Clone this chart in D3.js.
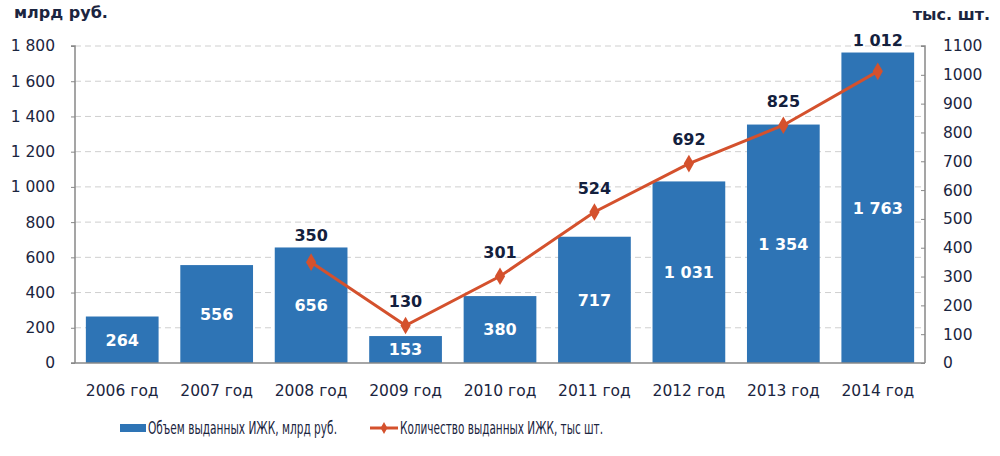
<!DOCTYPE html>
<html>
<head>
<meta charset="utf-8">
<script src="https://cdn.jsdelivr.net/npm/d3@7"></script>
<style>
html,body{margin:0;padding:0;background:#fff;}
svg{display:block;}
</style>
</head>
<body>
<svg id="chart" width="1000" height="456"></svg>
<script>
const categories = ["2006 год","2007 год","2008 год","2009 год","2010 год","2011 год","2012 год","2013 год","2014 год"];
const volumeValues = [264, 556, 656, 153, 380, 717, 1031, 1354, 1763];
const countYears = ["2008 год","2009 год","2010 год","2011 год","2012 год","2013 год","2014 год"];
const countValues = [350, 130, 301, 524, 692, 825, 1012];
const leftTicks = [0,200,400,600,800,1000,1200,1400,1600,1800];
const rightTicks = [0,100,200,300,400,500,600,700,800,900,1000,1100];
const leftTitle = "млрд руб.";
const rightTitle = "тыс. шт.";
const legendBar = "Объем выданных ИЖК, млрд руб.";
const legendLine = "Количество выданных ИЖК, тыс шт.";

const svg = d3.select("#chart");
const mLeft = 75, mRight = 925, mTop = 46, mBottom = 363;
const textColor = "#1b2540";
const barColor = "#2e74b5";
const lineColor = "#d4512d";
const font = "'DejaVu Sans', Verdana, sans-serif";

const x = d3.scaleBand().domain(categories).range([mLeft, mRight]).paddingInner(0.23).paddingOuter(0.115);
const yL = d3.scaleLinear().domain([0, 1800]).range([mBottom, mTop]);
const yR = d3.scaleLinear().domain([0, 1100]).range([mBottom, mTop]);
const fmtSpace = v => d3.format(",")(v).replace(/,/g, " ");

// gridlines
svg.append("g").selectAll("line").data(leftTicks.filter(d => d > 0)).join("line")
  .attr("x1", mLeft).attr("x2", mRight)
  .attr("y1", d => yL(d)).attr("y2", d => yL(d))
  .attr("stroke", "#cfcfcf").attr("stroke-width", 1).attr("stroke-dasharray", "6,4");

// bars
svg.append("g").selectAll("rect").data(volumeValues).join("rect")
  .attr("x", (d,i) => x(categories[i]))
  .attr("width", x.bandwidth())
  .attr("y", d => yL(d))
  .attr("height", d => yL(0) - yL(d))
  .attr("fill", barColor);

// bar labels
svg.append("g").selectAll("text").data(volumeValues).join("text")
  .attr("x", (d,i) => x(categories[i]) + x.bandwidth()/2)
  .attr("y", d => (yL(d) + yL(0))/2)
  .attr("dy", "0.36em")
  .attr("text-anchor", "middle")
  .attr("fill", "#fff").attr("font-family", font).attr("font-weight", "bold").attr("font-size", 16)
  .text(d => fmtSpace(d));

// left axis
const axL = d3.axisLeft(yL).tickValues(leftTicks).tickSize(4).tickPadding(16).tickFormat(fmtSpace);
const gL = svg.append("g").attr("transform", `translate(${mLeft},0)`).call(axL);
gL.select(".domain").attr("stroke", "#888").attr("stroke-width", 1.5).attr("d", `M-4,${mTop}H0V${mBottom}`);
gL.selectAll(".tick line").attr("stroke", "#888");
gL.selectAll("text").attr("font-family", font).attr("font-size", 15.5).attr("fill", textColor);

// right axis
const axR = d3.axisRight(yR).tickValues(rightTicks).tickSize(-4).tickPadding(18).tickFormat(d3.format("d"));
const gR = svg.append("g").attr("transform", `translate(${mRight},0)`).call(axR);
gR.select(".domain").attr("stroke", "#888").attr("stroke-width", 1.5).attr("d", `M-4,${mTop}H0V${mBottom}`);
gR.selectAll(".tick line").attr("stroke", "#888");
gR.selectAll("text").attr("font-family", font).attr("font-size", 15.5).attr("fill", textColor);

// bottom axis
const axB = d3.axisBottom(x).tickSize(0).tickPadding(22);
const gB = svg.append("g").attr("transform", `translate(0,${mBottom})`).call(axB);
gB.select(".domain").attr("stroke", "#888").attr("stroke-width", 1.5).attr("d", `M${mLeft-4},0H${mRight}`);
gB.selectAll("text").attr("font-family", font).attr("font-size", 15.5).attr("fill", textColor);

// line
const cx = c => x(c) + x.bandwidth()/2;
const pts = countValues.map((v,i) => [cx(countYears[i]), yR(v)]);
svg.append("path").datum(pts)
  .attr("d", d3.line())
  .attr("fill", "none").attr("stroke", lineColor).attr("stroke-width", 3);
svg.append("g").selectAll("path").data(pts).join("path")
  .attr("d", d3.symbol(d3.symbolDiamond, 90))
  .attr("transform", d => `translate(${d[0]},${d[1]})`)
  .attr("fill", lineColor);

// line labels
svg.append("g").selectAll("text").data(countValues).join("text")
  .attr("x", (d,i) => cx(countYears[i]))
  .attr("y", (d,i) => {
    const barTop = yL(volumeValues[categories.indexOf(countYears[i])]);
    const py = yR(d) - 24;
    return (yR(d) > barTop + 10) ? Math.min(py, barTop - 12) : py;
  })
  .attr("dy", "0.36em")
  .attr("text-anchor", "middle")
  .attr("fill", "#13203d").attr("font-family", font).attr("font-weight", "bold").attr("font-size", 16)
  .text(d => fmtSpace(d));

// titles
svg.append("text").attr("x", 14).attr("y", 18)
  .attr("font-family", font).attr("font-weight", "bold").attr("font-size", 16).attr("fill", textColor)
  .text(leftTitle);
svg.append("text").attr("x", 990).attr("y", 20).attr("text-anchor", "end")
  .attr("font-family", font).attr("font-weight", "bold").attr("font-size", 16).attr("fill", textColor)
  .text(rightTitle);

// legend
const lg = svg.append("g").attr("font-family", "'DejaVu Sans Condensed', 'Liberation Sans Narrow', 'Liberation Sans', sans-serif").attr("font-size", 17).attr("fill", textColor);
lg.append("rect").attr("x", 120).attr("y", 424).attr("width", 26).attr("height", 8).attr("fill", barColor);
lg.append("text").attr("x", 148).attr("y", 428).attr("dy", "0.36em")
  .attr("textLength", 189).attr("lengthAdjust", "spacingAndGlyphs").text(legendBar);
lg.append("line").attr("x1", 370).attr("x2", 398).attr("y1", 428).attr("y2", 428).attr("stroke", lineColor).attr("stroke-width", 3);
lg.append("path").attr("d", d3.symbol(d3.symbolDiamond, 40)).attr("transform", "translate(384,428)").attr("fill", lineColor);
lg.append("text").attr("x", 400).attr("y", 428).attr("dy", "0.36em")
  .attr("textLength", 203).attr("lengthAdjust", "spacingAndGlyphs").text(legendLine);
</script>
</body>
</html>
